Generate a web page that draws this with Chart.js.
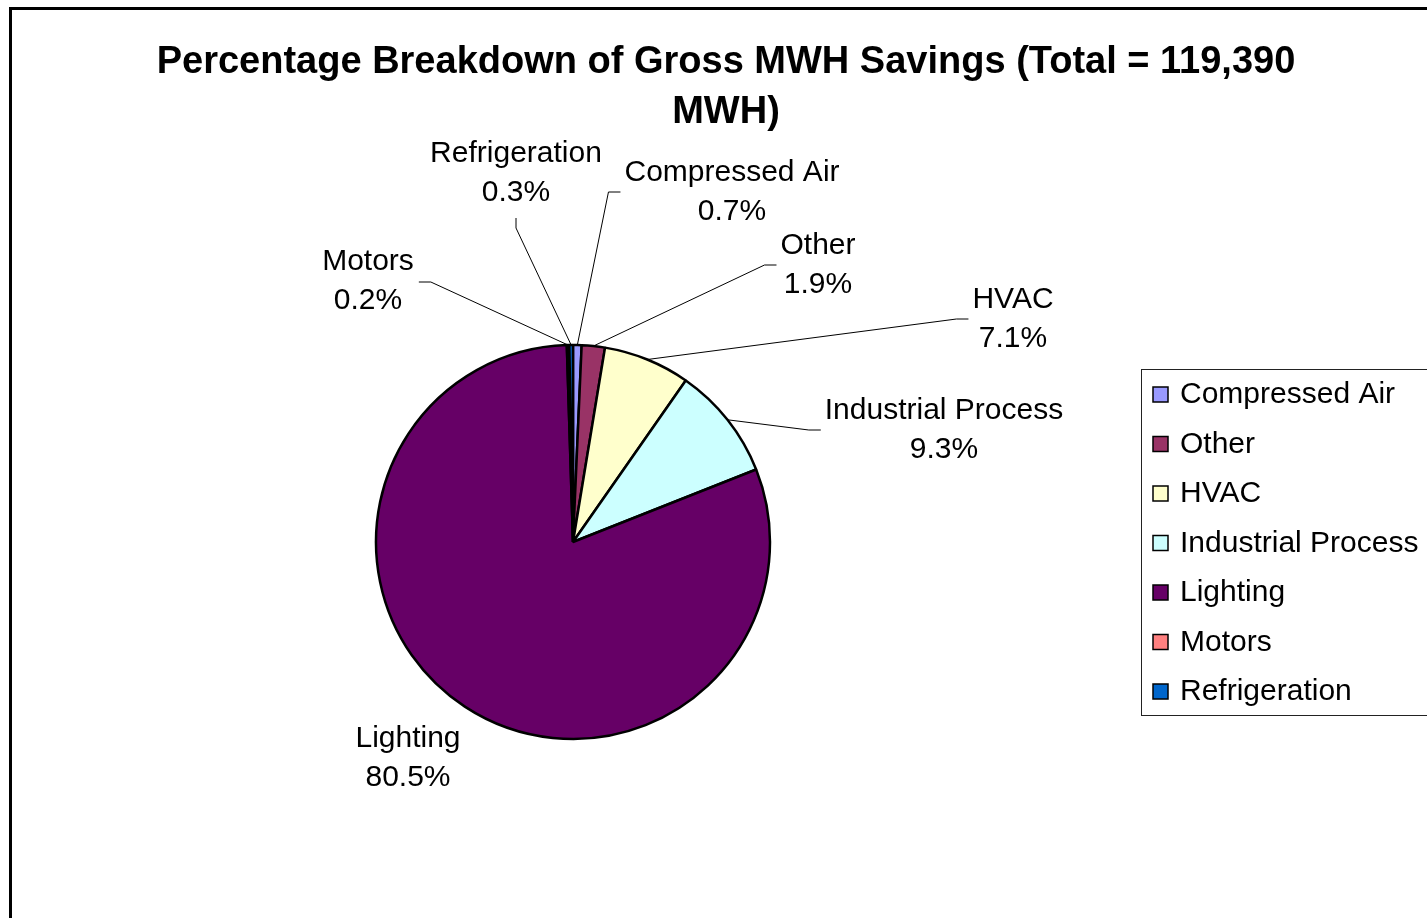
<!DOCTYPE html>
<html>
<head>
<meta charset="utf-8">
<title>Gross MWH Savings</title>
<script src="https://cdn.jsdelivr.net/npm/chart.js@4.4.1/dist/chart.umd.min.js"></script>
<style>
  html, body { margin: 0; padding: 0; background: #fff; overflow: hidden; }
  #grafica { display: block; }
</style>
</head>
<body>
<canvas id="grafica" width="1427" height="918"></canvas>
<script>
// savings share by end use, in percent of the total
const categories = ['Compressed Air', 'Other', 'HVAC', 'Industrial Process', 'Lighting', 'Motors', 'Refrigeration'];
const shares = [0.7, 1.9, 7.1, 9.3, 80.5, 0.2, 0.3];
const sliceColors = ['#9999FF', '#993366', '#FFFFCC', '#CCFFFF', '#660066', '#FF8080', '#0066CC'];
const titleLines = ['Percentage Breakdown of Gross MWH Savings (Total = 119,390', 'MWH)'];

// where each data label sits (offset of the text block from the pie centre)
// and which side of the block the leader line comes out of
const labelSpots = [
    {dx: 159, dy: -350, side: 'left'},
    {dx: 245, dy: -277, side: 'left'},
    {dx: 440, dy: -223, side: 'left'},
    {dx: 371, dy: -112, side: 'left'},
    {dx: -165, dy: 216, side: null},
    {dx: -205, dy: -261, side: 'right'},
    {dx: -57, dy: -369, side: 'bottom'}
];

const FONT = '"Liberation Sans", Arial, Helvetica, sans-serif';

const excelDecor = {
    id: 'excelDecor',
    beforeDraw(chart) {
        const ctx = chart.ctx;
        ctx.save();
        ctx.fillStyle = '#fff';
        ctx.fillRect(0, 0, chart.width, chart.height);
        // chart frame
        ctx.strokeStyle = '#000';
        ctx.lineWidth = 3;
        ctx.strokeRect(10.5, 8.5, chart.width + 20, chart.height + 20);
        // title
        ctx.fillStyle = '#000';
        ctx.font = 'bold 38px ' + FONT;
        ctx.textAlign = 'center';
        ctx.textBaseline = 'middle';
        titleLines.forEach((t, i) => ctx.fillText(t, 726, 63 + i * 50));
        ctx.restore();
    },
    afterDatasetsDraw(chart) {
        const ctx = chart.ctx;
        const arcs = chart.getDatasetMeta(0).data;
        ctx.save();
        ctx.font = '30px ' + FONT;
        ctx.textAlign = 'center';
        ctx.textBaseline = 'middle';
        ctx.fillStyle = '#000';
        ctx.strokeStyle = '#000';
        ctx.lineWidth = 1;

        arcs.forEach((arc, i) => {
            const p = arc.getProps(['x', 'y', 'startAngle', 'endAngle', 'outerRadius'], true);
            const mid = (p.startAngle + p.endAngle) / 2;
            const ex = p.x + Math.cos(mid) * p.outerRadius;
            const ey = p.y + Math.sin(mid) * p.outerRadius;
            const spot = labelSpots[i];
            const cx = p.x + spot.dx;
            const cy = p.y + spot.dy;
            const lines = [categories[i], shares[i].toFixed(1) + '%'];
            const w = Math.max(...lines.map(l => ctx.measureText(l).width));

            if (spot.side) {
                let ax, ay, bx, by;
                if (spot.side === 'left') {
                    ax = cx - w / 2 - 4; ay = cy; bx = ax - 12; by = ay;
                } else if (spot.side === 'right') {
                    ax = cx + w / 2 + 5; ay = cy + 1; bx = ax + 12; by = ay;
                } else {
                    ax = cx; ay = cy + 45; bx = ax; by = ay + 10;
                }
                ctx.beginPath();
                ctx.moveTo(ax, ay);
                ctx.lineTo(bx, by);
                ctx.lineTo(ex, ey);
                ctx.stroke();
            }
            lines.forEach((l, k) => ctx.fillText(l, cx, cy - 19.5 + k * 39));
        });

        // legend box
        const lx = 1141, ly = 369, rowH = 49.5;
        ctx.lineWidth = 1;
        ctx.strokeStyle = '#222';
        ctx.strokeRect(lx + 0.5, ly + 0.5, 400, 346);
        ctx.textAlign = 'left';
        categories.forEach((c, i) => {
            const y = ly + 25 + i * rowH;
            ctx.fillStyle = sliceColors[i];
            ctx.fillRect(lx + 12, y - 7, 15, 15);
            ctx.lineWidth = 1.5;
            ctx.strokeStyle = '#000';
            ctx.strokeRect(lx + 12, y - 7, 15, 15);
            ctx.fillStyle = '#000';
            ctx.fillText(c, lx + 39, y + 1);
        });
        ctx.restore();
    }
};

const data = {
    labels: categories,
    datasets: [{
        data: shares,
        backgroundColor: sliceColors,
        borderColor: '#000',
        borderWidth: 2.5
    }]
};

const cfg = {
    type: 'pie',
    data: data,
    options: {
        responsive: false,
        devicePixelRatio: 1,
        animation: false,
        radius: 197,
        layout: {padding: {left: 100, right: 381, top: 250, bottom: 84}},
        plugins: {
            legend: {display: false},
            title: {display: false},
            tooltip: {enabled: false}
        }
    },
    plugins: [excelDecor]
};

const myChart = new Chart(document.getElementById('grafica'), cfg);
</script>
</body>
</html>
